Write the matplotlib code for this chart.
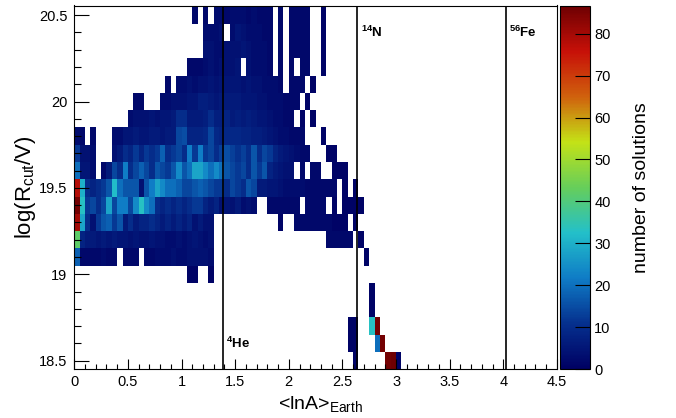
import numpy as np
import matplotlib
matplotlib.use("Agg")
import matplotlib.pyplot as plt
from matplotlib.colors import LinearSegmentedColormap, Normalize
from matplotlib.ticker import MultipleLocator, FormatStrFormatter

plt.rcParams["font.family"] = ["Liberation Sans", "DejaVu Sans"]
plt.rcParams["mathtext.fontset"] = "custom"
plt.rcParams["mathtext.rm"] = "Liberation Sans"
plt.rcParams["mathtext.it"] = "Liberation Sans:italic"
plt.rcParams["mathtext.bf"] = "Liberation Sans:bold"

# binning of the histogram: 0.05 in <lnA>, 0.1 in log(R_cut/V)
x_bin = 0.05
y_bin = 0.1
y_first = 18.5   # centre of lowest row

# counts per bin, rows from top (20.5) down to bottom (18.5), columns from lnA = 0
counts = [
    # 20.5
    [0]*22 + [2, 0, 2, 0, 3, 3, 2, 3, 3, 3, 2, 3, 2, 2, 2, 0, 2, 0, 2, 2, 2, 2, 0, 0, 1] + [0]*14,
    # 20.4
    [0]*24 + [3, 3, 3, 4, 0, 3, 5, 4, 3, 3, 3, 2, 2, 0, 2, 0, 2, 2, 2, 2, 0, 0, 1] + [0]*14,
    # 20.3
    [0]*24 + [4, 4, 3, 3, 4, 4, 4, 5, 4, 3, 3, 3, 2, 0, 2, 0, 2, 2, 2, 2, 0, 0, 1] + [0]*14,
    # 20.2
    [0]*21 + [2, 2, 2, 3, 4, 3, 4, 4, 4, 5, 0, 4, 3, 3, 3, 2, 0, 2, 0, 2, 0, 2, 2, 0, 0, 1] + [0]*14,
    # 20.1
    [0]*17 + [2, 0, 3, 3, 4, 3, 4, 4, 5, 4, 5, 5, 5, 5, 4, 5, 4, 4, 3, 3, 3, 2, 0, 2, 2, 2, 0, 1] + [0]*16,
    # 20.0
    [0]*11 + [2, 2, 0, 0, 0, 3, 3, 4, 4, 4, 5, 5, 7, 7, 6, 5, 6, 6, 6, 6, 5, 5, 5, 4, 4, 3, 3, 3, 2, 2, 2, 0, 1] + [0]*17,
    # 19.9
    [0]*10 + [3, 4, 4, 4, 5, 4, 5, 5, 6, 10, 10, 6, 6, 6, 7, 10, 7, 7, 8, 6,
              7, 6, 7, 6, 5, 5, 4, 3, 3, 2, 2, 0, 1, 0, 1] + [0]*16,
    # 19.8
    [3, 2, 0, 2, 0, 0, 0, 3, 3, 5, 5, 6, 5, 5, 6, 6, 5, 6, 6, 14,
     15, 8, 8, 8, 9, 14, 9, 8, 9, 9, 9, 8, 8, 7, 7, 6, 5, 4, 3, 3,
     2, 2, 2, 0, 0, 0, 1] + [0]*14,
    # 19.7
    [12, 4, 4, 3, 0, 0, 0, 4, 6, 10, 8, 12, 8, 12, 10, 12, 18, 10, 12, 14,
     10, 22, 12, 22, 12, 14, 10, 13, 15, 13, 11, 13, 10, 16, 10, 14, 12, 8, 6, 5,
     4, 3, 2, 2, 0, 0, 0, 1, 1] + [0]*12,
    # 19.6
    [20, 5, 5, 3, 0, 2, 6, 14, 10, 22, 10, 14, 18, 14, 10, 16, 14, 12, 16, 24,
     16, 20, 28, 28, 24, 20, 24, 20, 16, 14, 12, 14, 10, 16, 12, 16, 8, 6, 5, 4,
     4, 0, 2, 0, 2, 2, 0, 0, 1, 1, 1] + [0]*10,
    # 19.5
    [78, 30, 10, 8, 10, 12, 16, 32, 20, 16, 16, 16, 4, 16, 22, 28, 24, 20, 20, 18,
     14, 14, 16, 18, 16, 14, 12, 12, 10, 14, 12, 10, 16, 14, 6, 6, 5, 5, 4, 3,
     3, 3, 3, 2, 2, 2, 2, 2, 2, 0, 1, 0, 1] + [0]*8,
    # 19.4
    [86, 33, 12, 14, 10, 14, 28, 14, 22, 22, 14, 24, 33, 24, 20, 10, 8, 10, 8, 10,
     8, 10, 12, 12, 8, 6, 8, 4, 5, 4, 6, 3, 4, 3, 0, 0, 2, 2, 2, 2,
     2, 2, 0, 2, 2, 2, 2, 0, 1, 0, 1, 1, 1, 1] + [0]*7,
    # 19.3
    [80, 28, 10, 4, 12, 16, 18, 12, 16, 6, 10, 6, 8, 8, 10, 8, 6, 8, 6, 8,
     6, 8, 4, 6, 4, 4] + [0]*12 + [1, 0, 0, 2, 2, 2, 2, 2, 2, 2, 1, 1, 1, 0, 1] + [0]*8,
    # 19.2
    [42, 8, 6, 6, 5, 6, 5, 6, 5, 5, 4, 5, 4, 4, 5, 4, 4, 3, 3, 4,
     3, 4, 5, 4, 3, 4] + [0]*21 + [2, 2, 2, 2, 2, 0, 1] + [0]*7,
    # 19.1
    [18, 2, 2, 2, 2, 3, 2, 2, 0, 2, 2, 2, 0, 2, 2, 3, 3, 3, 4, 3,
     3, 4, 4, 4, 4, 3] + [0]*28 + [1] + [0]*6,
    # 19.0
    [0]*21 + [1, 1, 0, 0, 1] + [0]*35,
    # 18.9
    [0]*55 + [1] + [0]*5,
    # 18.8
    [0]*55 + [1] + [0]*5,
    # 18.7
    [0]*51 + [1, 1, 0, 0, 33, 86] + [0]*4,
    # 18.6
    [0]*51 + [1, 1, 0, 0, 0, 20, 86] + [0]*3,
    # 18.5
    [0]*52 + [1, 0, 0, 0, 0, 0, 86, 87, 1],
]
z_max = 86.7

# nuclei markers: mass number, name
nuclei_A = [4, 14, 56]
nuclei_names = ["He", "N", "Fe"]
label_y = [18.60, 20.40, 20.40]

# ROOT kRainBow palette stops
palette = [(0, 0, 99), (5, 48, 142), (15, 124, 198), (35, 192, 201), (102, 206, 90),
           (196, 226, 22), (208, 97, 13), (199, 16, 8), (110, 0, 2)]
cmap = LinearSegmentedColormap.from_list("rainbow_root", [tuple(c / 255 for c in p) for p in palette], N=255)

data = np.ma.masked_equal(np.array(counts[::-1], dtype=float), 0)
n_rows, n_cols = data.shape
x_edges = np.arange(n_cols + 1) * x_bin
y_edges = y_first - y_bin / 2 + np.arange(n_rows + 1) * y_bin

fig = plt.figure(figsize=(6.76, 4.18), dpi=100)
W, H = 676, 418
ax = fig.add_axes([74.3 / W, 1 - 369.3 / H, (556.9 - 74.3) / W, (369.3 - 5.5) / H])
cax = fig.add_axes([560 / W, 1 - 369.3 / H, 30 / W, (369.3 - 5.5) / H])

mesh = ax.pcolormesh(x_edges, y_edges, data, cmap=cmap, norm=Normalize(0, z_max))

for A, name, ly in zip(nuclei_A, nuclei_names, label_y):
    ax.axvline(np.log(A), color="black", lw=1.2)
    ax.text(np.log(A) + 0.03, ly, r"$^{\mathbf{%d}}\mathbf{%s}$" % (A, name), fontsize=9.5,
            ha="left", va="center")

ax.set_xlim(0, 4.5)
ax.set_ylim(18.45, 20.556)
ax.xaxis.set_major_locator(MultipleLocator(0.5))
ax.xaxis.set_minor_locator(MultipleLocator(0.1))
ax.yaxis.set_major_locator(MultipleLocator(0.5))
ax.yaxis.set_minor_locator(MultipleLocator(0.1))
ax.xaxis.set_major_formatter(FormatStrFormatter("%g"))
ax.yaxis.set_major_formatter(FormatStrFormatter("%g"))
ax.tick_params(axis="x", which="major", direction="in", length=7.2, width=0.8, labelsize=10.5, pad=4)
ax.tick_params(axis="x", which="minor", direction="in", length=3.6, width=0.8)
ax.tick_params(axis="y", which="major", direction="in", length=10.8, width=0.8, labelsize=10.5, pad=5)
ax.tick_params(axis="y", which="minor", direction="in", length=5, width=0.8)
for s in ax.spines.values():
    s.set_linewidth(0.8)

ax.set_xlabel(r"<lnA>$_{\mathrm{Earth}}$", fontsize=14)
ax.xaxis.set_label_coords(0.51, -0.068)
ax.set_ylabel(r"log(R$_{\mathrm{cut}}$/V)", fontsize=16)
ax.yaxis.set_label_coords(-0.075, 0.5)

cb = fig.colorbar(mesh, cax=cax)
cb.set_ticks(np.arange(0, 81, 10))
cb.outline.set_linewidth(0.8)
cax.tick_params(axis="y", direction="in", length=10.8, width=0.8, labelsize=10.5, pad=3)
cax.minorticks_off()
cb.set_label("number of solutions", fontsize=14)
cax.yaxis.set_label_coords(2.45, 0.5)

fig.savefig("out.png", dpi=100)
